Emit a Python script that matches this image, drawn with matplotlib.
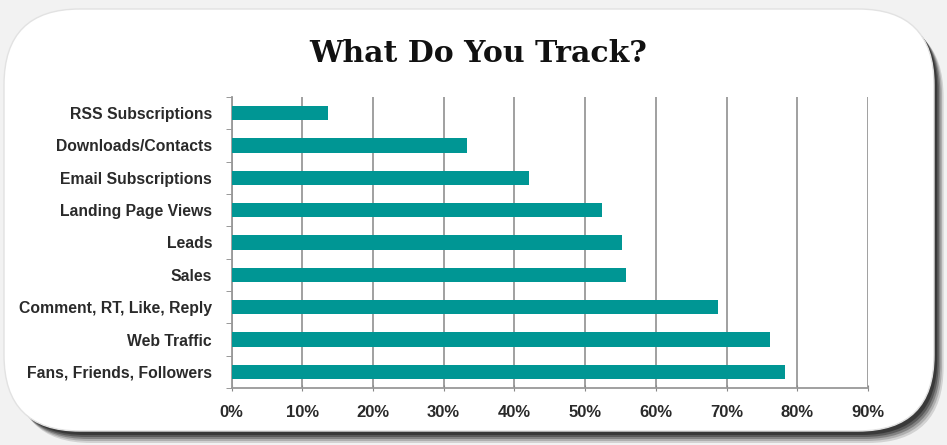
import matplotlib.pyplot as plt
from matplotlib.patches import FancyBboxPatch
from matplotlib.ticker import PercentFormatter

# Data for What Do You Track?
categories = ['RSS Subscriptions', 'Downloads/Contacts', 'Email Subscriptions',
              'Landing Page Views', 'Leads', 'Sales', 'Comment, RT, Like, Reply',
              'Web Traffic', 'Fans, Friends, Followers']
shares = [13.7, 33.3, 42.0, 52.4, 55.2, 55.8, 68.8, 76.2, 78.3]
x_ticks = [0, 10, 20, 30, 40, 50, 60, 70, 80, 90]

fig = plt.figure(figsize=(9.47, 4.45), dpi=100)
fig.patch.set_facecolor('#f2f2f2')

# rounded card with a soft dark shadow underneath
W, H = 947, 445
for i, a in enumerate([0.15, 0.2, 0.3, 0.4, 0.55]):
    off = 12 - i * 2
    sh = FancyBboxPatch(((6 + off * 0.8) / W, (14 - off) / H), 928 / W, 422 / H,
                        boxstyle="round,pad=0,rounding_size=0.08",
                        transform=fig.transFigure, facecolor='#1e1e1e', edgecolor='none',
                        alpha=a, mutation_aspect=W / H, zorder=0)
    fig.patches.append(sh)
card = FancyBboxPatch((4 / W, 14 / H), 930 / W, 422 / H,
                      boxstyle="round,pad=0,rounding_size=0.08",
                      transform=fig.transFigure, facecolor='white', edgecolor='#e2e2e2',
                      linewidth=1, mutation_aspect=W / H, zorder=1)
fig.patches.append(card)

ax = fig.add_axes([231.5 / W, 1 - 388 / H, (868 - 231.5) / W, (388 - 97) / H])
ax.set_facecolor('none')
ax.set_zorder(2)

ypos = list(range(len(categories)))
ax.barh(ypos, shares, height=0.44, color='#009694', zorder=3)
ax.set_ylim(len(categories) - 0.5, -0.5)
ax.set_xlim(0, 90)

ax.set_yticks(ypos)
ax.set_yticklabels(categories, fontsize=11.3, fontweight='bold', color='#2a2a2a',
                   family='Liberation Sans')
ax.set_yticks([i - 0.5 for i in range(len(categories) + 1)], minor=True)
ax.tick_params(axis='y', which='major', length=0, pad=14)
ax.tick_params(axis='y', which='minor', length=4, color='#888888', direction='out')

ax.set_xticks(x_ticks)
ax.xaxis.set_major_formatter(PercentFormatter(decimals=0))
for lab in ax.get_xticklabels():
    lab.set_fontweight('bold')
    lab.set_family('Liberation Sans')
ax.tick_params(axis='x', labelsize=12, labelcolor='#2a2a2a', length=4,
               direction='inout', color='#888888', pad=10)

ax.grid(axis='x', color='#999999', linewidth=1.3, zorder=1)
ax.spines['top'].set_visible(False)
ax.spines['right'].set_visible(False)
ax.spines['left'].set_color('#999999')
ax.spines['bottom'].set_color('#999999')
ax.spines['left'].set_linewidth(1.3)
ax.spines['bottom'].set_linewidth(1.3)

fig.text(478 / W, 1 - 53 / H, 'What Do You Track?', ha='center', va='center',
         fontsize=21.5, fontweight='bold', family='DejaVu Serif', color='#111111', zorder=3)

plt.savefig('out.png', dpi=100, facecolor=fig.get_facecolor())
